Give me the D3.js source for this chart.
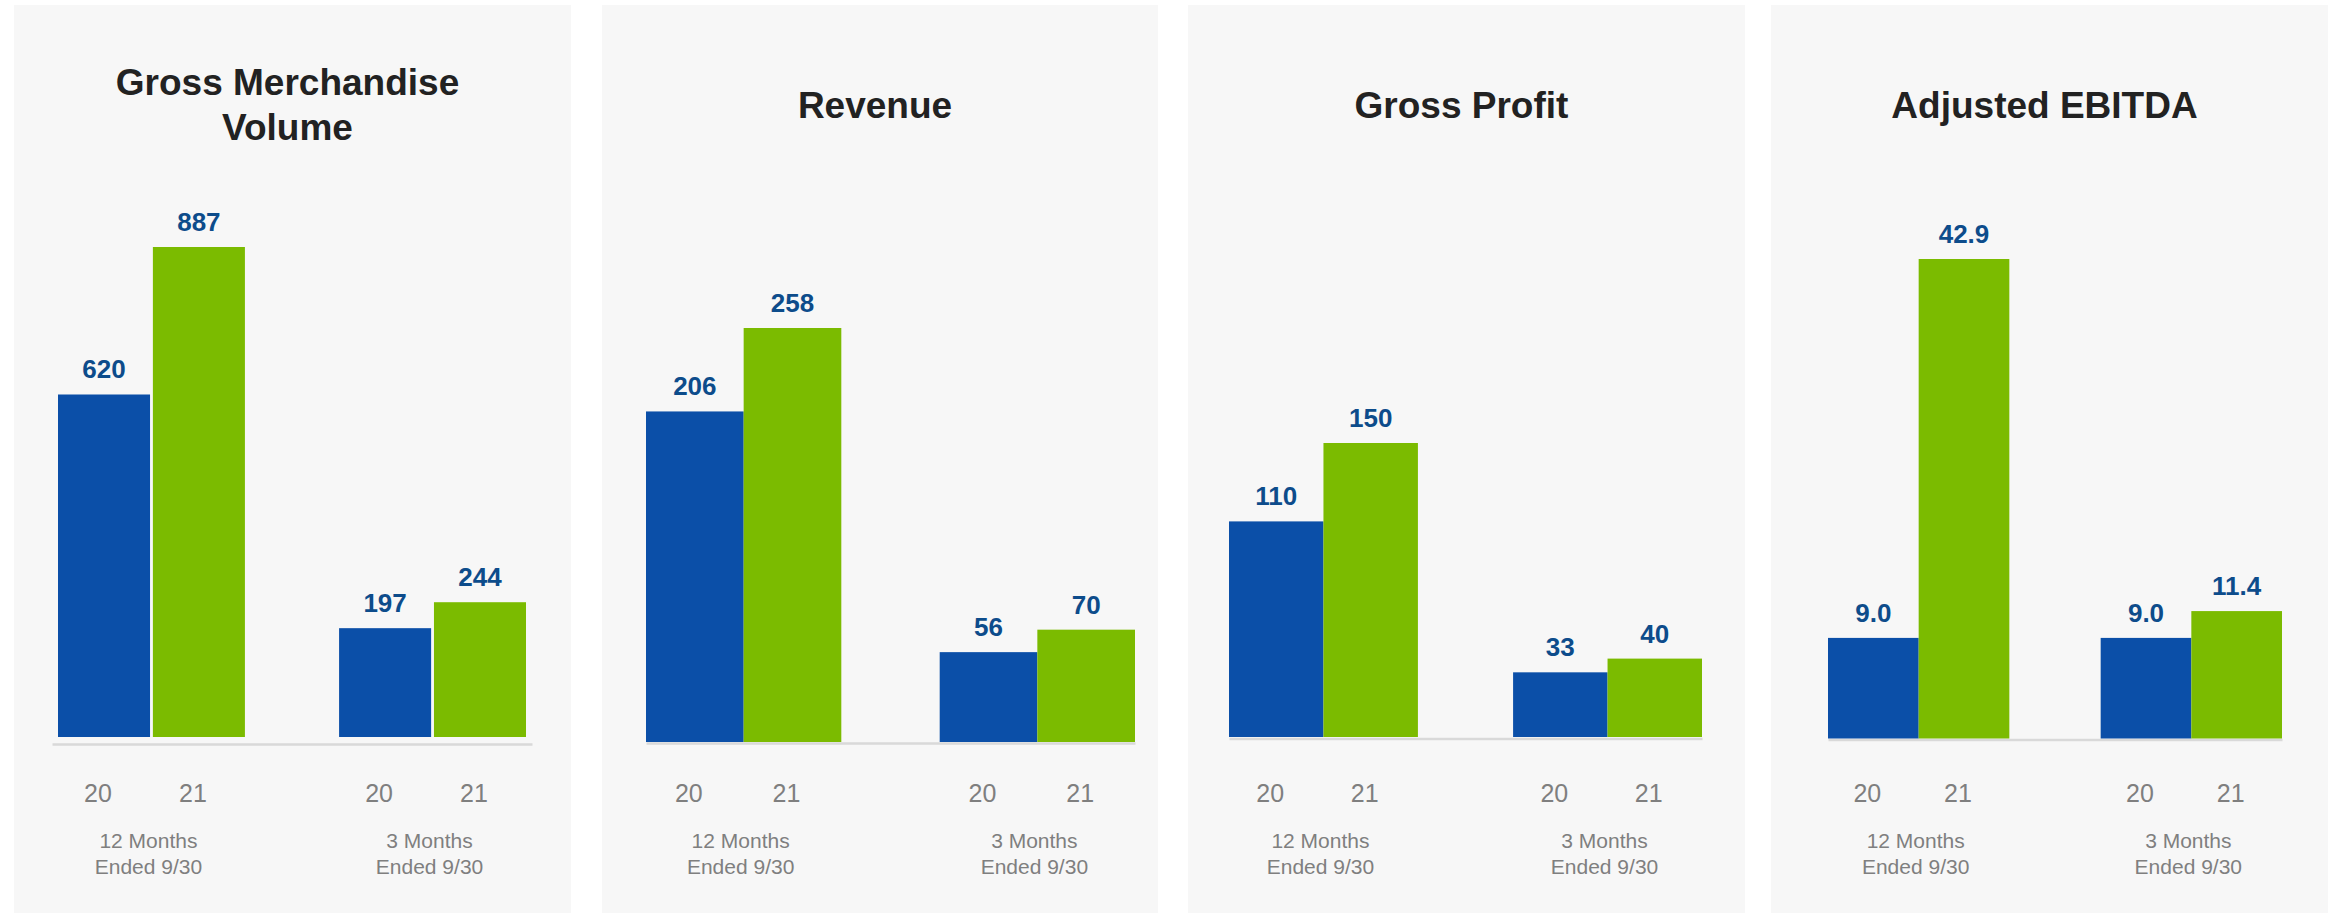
<!DOCTYPE html>
<html>
<head>
<meta charset="utf-8">
<script src="https://cdn.jsdelivr.net/npm/d3@7"></script>
<style>
  html, body { margin: 0; padding: 0; background: #ffffff; }
  svg { display: block; }
  text { font-family: "Liberation Sans", Arial, Helvetica, sans-serif; }
</style>
</head>
<body>
<svg id="chart" width="2341" height="917"></svg>
<script>
// ---------------- DATA ----------------
const panelTitles = [["Gross Merchandise", "Volume"], ["Revenue"], ["Gross Profit"], ["Adjusted EBITDA"]];
const periods = [["12 Months", "Ended 9/30"], ["3 Months", "Ended 9/30"]];
const years = ["20", "21"];
const gmv20 = [620, 197];
const gmv21 = [887, 244];
const revenue20 = [206, 56];
const revenue21 = [258, 70];
const grossProfit20 = [110, 33];
const grossProfit21 = [150, 40];
const ebitda20 = [9.0, 9.0];
const ebitda21 = [42.9, 11.4];
const valueFormats = ["d", "d", "d", ".1f"];

// ---------------- LAYOUT / STYLE ----------------
const seriesColors = ["#0b4fa8", "#7bbb00"];
const labelColor = "#0d4c8b";
const panels = [
  { x0: 14,   x1: 571,  px0: 58,   px1: 526,  base: 737,   topY: 247, maxV: 887,  inner: 0.03, axisExt: 6, axisY: 744, titleY: [95, 140] },
  { x0: 602,  x1: 1158, px0: 646,  px1: 1135, base: 742,   topY: 328, maxV: 258,  inner: 0,    axisExt: 0, axisY: 743, titleY: [118] },
  { x0: 1188, x1: 1745, px0: 1229, px1: 1702, base: 737,   topY: 443, maxV: 150,  inner: 0,    axisExt: 0, axisY: 738.5, titleY: [118] },
  { x0: 1771, x1: 2328, px0: 1828, px1: 2282, base: 738.5, topY: 259, maxV: 42.9, inner: 0,    axisExt: 0, axisY: 739.5, titleY: [118] }
];
const seriesByPanel = [
  [gmv20, gmv21],
  [revenue20, revenue21],
  [grossProfit20, grossProfit21],
  [ebitda20, ebitda21]
];

const svg = d3.select("#chart");

panels.forEach((p, i) => {
  const g = svg.append("g");
  // panel background
  g.append("rect")
    .attr("x", p.x0).attr("y", 5)
    .attr("width", p.x1 - p.x0).attr("height", 908)
    .attr("fill", "#f7f7f7");

  // title
  const cx = (p.x0 + p.x1) / 2 - 5;
  panelTitles[i].forEach((t, k) => {
    g.append("text")
      .attr("x", cx).attr("y", p.titleY[k])
      .attr("text-anchor", "middle")
      .attr("font-size", 37).attr("font-weight", "bold")
      .attr("fill", "#222222")
      .text(t);
  });

  // scales
  const x0 = d3.scaleBand().domain(d3.range(periods.length)).range([p.px0, p.px1]).paddingInner(0.335).paddingOuter(0);
  const x1 = d3.scaleBand().domain(d3.range(years.length)).range([0, x0.bandwidth()]).paddingInner(p.inner).paddingOuter(0);
  const y = d3.scaleLinear().domain([0, p.maxV]).range([p.base, p.topY]);
  const fmt = d3.format(valueFormats[i]);

  // axis line (category axis, no ticks)
  const axisScale = d3.scaleLinear().domain([0, 1]).range([p.px0 - p.axisExt, p.px1 + p.axisExt]);
  const axis = d3.axisBottom(axisScale).tickValues([]).tickSizeOuter(0);
  const ag = g.append("g").attr("transform", `translate(0,${p.axisY})`).call(axis);
  ag.select(".domain").attr("stroke", "#d9d9d9").attr("stroke-width", 2.5);

  const series = seriesByPanel[i];
  periods.forEach((per, gi) => {
    const gx = x0(gi);
    series.forEach((vals, si) => {
      const v = vals[gi];
      const bx = gx + x1(si);
      const bw = x1.bandwidth();
      g.append("rect")
        .attr("x", bx).attr("y", y(v))
        .attr("width", bw).attr("height", y(0) - y(v))
        .attr("fill", seriesColors[si]);
      g.append("text")
        .attr("x", bx + bw / 2).attr("y", y(v) - 16)
        .attr("text-anchor", "middle")
        .attr("font-size", 26).attr("font-weight", "bold")
        .attr("fill", labelColor)
        .text(fmt(v));
      g.append("text")
        .attr("x", bx + bw / 2 - 6).attr("y", 802)
        .attr("text-anchor", "middle")
        .attr("font-size", 25)
        .attr("fill", "#7f7f7f")
        .text(years[si]);
    });
    per.forEach((line, li) => {
      g.append("text")
        .attr("x", gx + x0.bandwidth() / 2 - 3).attr("y", 848 + li * 26)
        .attr("text-anchor", "middle")
        .attr("font-size", 21)
        .attr("fill", "#7f7f7f")
        .text(line);
    });
  });
});
</script>
</body>
</html>
